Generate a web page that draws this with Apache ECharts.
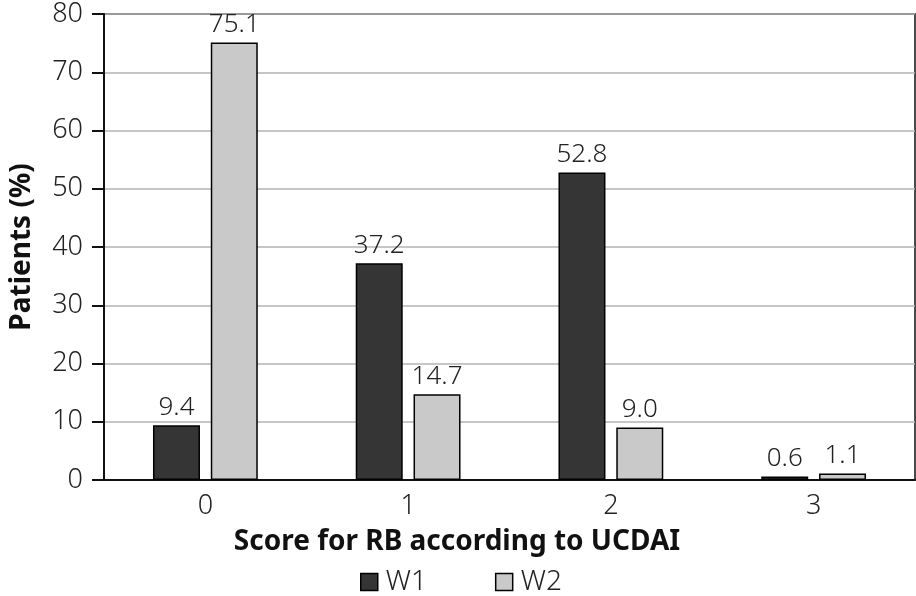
<!DOCTYPE html>
<html><head><meta charset="utf-8">
<script src="https://cdn.jsdelivr.net/npm/echarts@6/dist/echarts.min.js"></script>
<style>html,body{margin:0;padding:0;background:#fff}#c{width:916px;height:596px}</style>
</head><body><div id="c"></div>
<script>
const categories = ['0', '1', '2', '3'];
const w1 = [9.4, 37.2, 52.8, 0.6];
const w2 = [75.1, 14.7, 9.0, 1.1];
const seriesNames = ['W1', 'W2'];

const chart = echarts.init(document.getElementById('c'));
const font = 'Noto Sans';
const lw = 300;
const lbl = {show: true, position: 'top', distance: 5, fontFamily: font, fontWeight: lw, fontSize: 26, color: '#222',
  formatter: p => p.value.toFixed(1)};
chart.setOption({
  animation: false,
  title: {text: 'Score for RB according to UCDAI', left: 452, top: 523, textAlign: 'center',
    textStyle: {fontFamily: font, fontSize: 28, fontWeight: 'bold', color: '#111'}},
  grid: {left: 100, right: 1, top: 14, bottom: 116, show: true, borderColor: '#111', borderWidth: 1.5},
  legend: {top: 563, left: 355, itemGap: 68, itemWidth: 17, itemHeight: 17, icon: 'rect',
    textStyle: {fontFamily: font, fontWeight: lw, fontSize: 28, color: '#222', padding: [0, 0, 0, 3]},
    itemStyle: {borderColor: '#000', borderWidth: 1.5}, data: seriesNames},
  xAxis: {type: 'category', data: categories,
    axisLine: {lineStyle: {color: '#111', width: 2}}, axisTick: {show: false},
    axisLabel: {fontFamily: font, fontWeight: lw, fontSize: 27, color: '#222', margin: 13}},
  yAxis: {type: 'value', min: 0, max: 80, interval: 10,
    name: 'Patients (%)', nameLocation: 'middle', nameGap: 68,
    nameTextStyle: {fontFamily: font, fontSize: 28, fontWeight: 'bold', color: '#111'},
    axisLine: {show: true, lineStyle: {color: '#111', width: 2}},
    axisTick: {show: true, length: 12, lineStyle: {color: '#111', width: 2}},
    axisLabel: {fontFamily: font, fontWeight: lw, fontSize: 27, color: '#222', margin: 21},
    splitLine: {lineStyle: {color: '#b3b3b3', width: 1.5}}},
  series: [
    {name: seriesNames[0], type: 'bar', data: w1, barWidth: 47, barGap: '23%',
      itemStyle: {color: '#353535', borderColor: '#000', borderWidth: 1.5}, label: lbl},
    {name: seriesNames[1], type: 'bar', data: w2, barWidth: 47,
      itemStyle: {color: '#c9c9c9', borderColor: '#000', borderWidth: 1.5}, label: lbl}
  ]
});
</script></body></html>
